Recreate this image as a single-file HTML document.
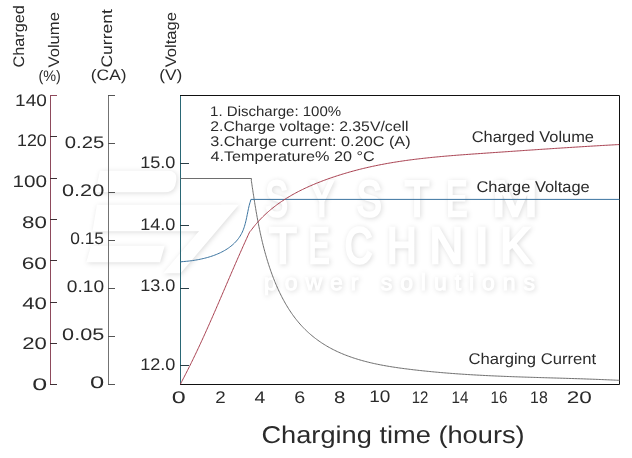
<!DOCTYPE html>
<html><head><meta charset="utf-8"><title>Charging characteristics</title><style>
html,body{margin:0;padding:0;background:#fff;width:632px;height:458px;overflow:hidden}
svg{display:block}
text{font-family:"Liberation Sans",sans-serif;fill:#2b2b2b;text-rendering:geometricPrecision}
.wm text{fill:#fff}
</style></head><body>
<svg width="632" height="458" viewBox="0 0 632 458">
<defs><filter id="wm" x="-20%" y="-30%" width="140%" height="160%" color-interpolation-filters="sRGB">
<feGaussianBlur in="SourceAlpha" stdDeviation="2.5"/>
<feOffset dx="0.8" dy="1.3" result="b"/>
<feFlood flood-color="#000" flood-opacity="0.14"/>
<feComposite in2="b" operator="in"/>
<feMerge><feMergeNode/><feMergeNode in="SourceGraphic"/></feMerge>
</filter></defs>
<g class="wm" filter="url(#wm)" fill="#fff" stroke="#fff" stroke-width="2.6" font-family="Liberation Sans,sans-serif">
<path d="M101,172 H168 Q176,172 175,180 L174,185 Q172,191 164,191 H97 Z"/>
<path d="M98,206 H234 L210,230 H94 Z"/>
<path d="M222,206 L236,206 L180,272 L166,272 Z"/>
<path d="M92,247 H163 L159,261 H88 Z"/>
<text font-size="50.3" transform="translate(265.3,215.5) scale(0.674,1)">S</text>
<text font-size="50.3" transform="translate(309.9,215.5) scale(0.707,1)">Y</text>
<text font-size="50.3" transform="translate(356.6,215.5) scale(0.752,1)">S</text>
<text font-size="50.3" transform="translate(404.7,215.5) scale(0.802,1)">T</text>
<text font-size="50.3" transform="translate(446.3,215.5) scale(0.629,1)">E</text>
<text font-size="50.3" transform="translate(491.9,215.5) scale(1.094,1)">M</text>
<text font-size="50.7" transform="translate(268.9,262.7) scale(0.896,1)">T</text>
<text font-size="50.7" transform="translate(308.6,262.7) scale(0.624,1)">E</text>
<text font-size="50.7" transform="translate(344.8,262.7) scale(0.755,1)">C</text>
<text font-size="50.7" transform="translate(387.0,262.7) scale(0.809,1)">H</text>
<text font-size="50.7" transform="translate(429.4,262.7) scale(0.920,1)">N</text>
<text font-size="50.7" transform="translate(474.7,262.7) scale(1.000,1)">I</text>
<text font-size="50.7" transform="translate(500.3,262.7) scale(0.908,1)">K</text>
<text font-size="23" x="264" y="290" stroke-width="1" textLength="271" lengthAdjust="spacing">power solutions</text>
</g>
<g fill="none" stroke-width="1">
<path d="M50.5,95V385 M50,95.5H57" stroke="#8e4a5c"/>
<path d="M50,136.5H57 M50,178.5H57 M50,219.5H57 M50,260.5H57 M50,302.5H57 M50,343.5H57 M50,384.5H57" stroke="#3e3035"/>
<path d="M108.5,95V385" stroke="#737373"/>
<path d="M108,95.5H115 M108,143.5H115 M108,192.5H115 M108,240.5H115 M108,288.5H115 M108,336.5H115 M108,384.5H115" stroke="#555"/>
<path d="M180.5,95.5V384" stroke="#2a6775"/>
<path d="M180,163.5H189 M180,225.5H189 M180,288.5H189 M180,365.5H189" stroke="#2a3e46"/>
<path d="M180,95.5H619.5V384.5H180" stroke="#111"/>
</g>
<g fill="none" stroke-width="1" stroke-linejoin="round">
<path d="M180.5,178.5 L251.3,178.5 L251.50,178.50 251.29,180.30 251.51,181.79 251.73,183.28 251.95,184.77 252.17,186.27 252.39,187.76 252.62,189.25 252.84,190.74 253.06,192.23 253.29,193.73 253.52,195.22 253.75,196.71 253.98,198.20 254.21,199.69 254.45,201.18 254.68,202.67 254.92,204.16 255.17,205.65 255.41,207.14 255.66,208.62 255.91,210.11 256.17,211.60 256.43,213.08 256.69,214.57 256.95,216.06 257.22,217.54 257.49,219.02 257.77,220.51 258.05,221.99 258.33,223.47 258.62,224.95 258.92,226.43 259.22,227.91 259.52,229.39 259.83,230.86 260.14,232.34 260.46,233.81 260.78,235.29 261.11,236.76 261.45,238.23 261.79,239.70 262.14,241.17 262.49,242.64 262.85,244.10 263.21,245.56 263.59,247.03 263.96,248.49 264.35,249.95 264.74,251.40 265.14,252.86 265.55,254.31 265.96,255.76 266.38,257.21 266.81,258.66 267.24,260.10 267.69,261.54 268.14,262.98 268.59,264.42 269.06,265.85 269.54,267.29 270.02,268.72 270.51,270.14 271.01,271.56 271.52,272.99 272.04,274.40 272.56,275.82 273.10,277.23 273.64,278.63 274.20,280.04 274.76,281.44 275.34,282.83 275.92,284.22 276.51,285.61 277.12,286.99 277.73,288.37 278.36,289.74 278.99,291.11 279.64,292.47 280.30,293.83 280.97,295.18 281.65,296.53 282.34,297.87 283.05,299.20 283.77,300.53 284.50,301.85 285.24,303.16 286.00,304.47 286.77,305.76 287.55,307.05 288.35,308.33 289.16,309.61 289.98,310.87 290.82,312.12 291.67,313.37 292.54,314.60 293.42,315.82 294.32,317.04 295.23,318.24 296.16,319.43 297.10,320.61 298.06,321.77 299.03,322.93 300.02,324.06 301.03,325.19 302.05,326.30 303.08,327.40 304.14,328.48 305.20,329.55 306.29,330.60 307.38,331.63 308.49,332.65 309.62,333.66 310.76,334.65 311.91,335.62 313.08,336.58 314.26,337.52 315.45,338.44 316.65,339.35 317.87,340.24 319.10,341.12 320.34,341.98 321.59,342.82 322.85,343.64 324.13,344.45 325.41,345.24 326.71,346.01 328.01,346.77 329.33,347.51 330.65,348.23 331.98,348.94 333.33,349.63 334.68,350.31 336.03,350.97 337.40,351.61 338.77,352.24 340.15,352.85 341.53,353.45 342.92,354.03 344.32,354.60 345.72,355.15 347.13,355.69 348.55,356.22 349.97,356.73 351.39,357.23 352.82,357.72 354.25,358.19 355.69,358.65 357.13,359.10 358.57,359.54 360.02,359.97 361.47,360.38 362.92,360.79 364.38,361.18 365.84,361.56 367.30,361.93 368.76,362.30 370.23,362.65 371.70,362.99 373.17,363.33 374.64,363.65 376.12,363.97 377.59,364.27 379.07,364.57 380.55,364.87 382.03,365.15 383.52,365.43 385.00,365.70 386.49,365.96 387.97,366.21 389.46,366.46 390.95,366.71 392.44,366.94 393.93,367.17 395.42,367.40 396.92,367.62 398.41,367.84 399.90,368.05 401.40,368.25 402.89,368.45 404.39,368.65 405.88,368.84 407.38,369.03 408.88,369.22 410.38,369.40 411.87,369.58 413.37,369.76 414.87,369.93 416.37,370.10 417.87,370.27 419.37,370.44 420.87,370.60 422.37,370.76 423.87,370.92 425.37,371.08 426.87,371.23 428.37,371.38 429.87,371.53 431.37,371.67 432.88,371.82 434.38,371.96 435.88,372.10 437.38,372.23 438.88,372.37 440.39,372.50 441.89,372.63 443.39,372.76 444.90,372.88 446.40,373.00 447.90,373.13 449.41,373.24 450.91,373.36 452.42,373.48 453.92,373.59 455.43,373.70 456.93,373.81 458.43,373.91 459.94,374.02 461.44,374.12 462.95,374.22 464.46,374.32 465.96,374.42 467.47,374.51 468.97,374.61 470.48,374.70 471.98,374.79 473.49,374.88 475.00,374.96 476.50,375.05 478.01,375.13 479.52,375.21 481.02,375.29 482.53,375.37 484.03,375.45 485.54,375.53 487.05,375.60 488.55,375.67 490.06,375.75 491.57,375.82 493.08,375.88 494.58,375.95 496.09,376.02 497.60,376.09 499.10,376.15 500.61,376.21 502.12,376.27 503.63,376.34 505.13,376.40 506.64,376.46 508.15,376.51 509.66,376.57 511.16,376.63 512.67,376.68 514.18,376.74 515.69,376.79 517.19,376.84 518.70,376.90 520.21,376.95 521.72,377.00 523.23,377.05 524.73,377.10 526.24,377.15 527.75,377.20 529.26,377.24 530.76,377.29 532.27,377.34 533.78,377.38 535.29,377.43 536.80,377.48 538.30,377.52 539.81,377.57 541.32,377.61 542.83,377.66 544.34,377.70 545.84,377.75 547.35,377.79 548.86,377.83 550.37,377.88 551.88,377.92 553.38,377.97 554.89,378.01 556.40,378.05 557.91,378.10 559.42,378.14 560.92,378.19 562.43,378.23 563.94,378.28 565.45,378.32 566.95,378.37 568.46,378.41 569.97,378.46 571.48,378.51 572.99,378.55 574.49,378.60 576.00,378.65 577.51,378.69 579.02,378.74 580.53,378.79 582.03,378.84 583.54,378.89 585.05,378.94 586.56,379.00 588.06,379.05 589.57,379.10 591.08,379.16 592.59,379.21 594.09,379.27 595.60,379.32 597.11,379.38 598.62,379.44 600.12,379.50 601.63,379.56 603.14,379.62 604.65,379.68 606.15,379.74 607.66,379.80 609.17,379.87 610.68,379.94 612.18,380.00 613.69,380.07 615.20,380.14 616.70,380.21 618.21,380.28 619.50,380.20" stroke="#6e6e6e"/>
<path d="M180.50,262.00 182.00,261.66 183.53,261.55 185.05,261.42 186.58,261.28 188.10,261.12 189.62,260.95 191.13,260.76 192.65,260.55 194.16,260.32 195.67,260.08 197.18,259.82 198.68,259.54 200.18,259.24 201.68,258.92 203.17,258.58 204.66,258.22 206.14,257.84 207.61,257.44 209.08,257.01 210.54,256.56 212.00,256.08 213.44,255.58 214.88,255.05 216.30,254.49 217.71,253.90 219.11,253.29 220.50,252.64 221.87,251.96 223.22,251.25 224.56,250.51 225.87,249.73 227.17,248.91 228.44,248.06 229.68,247.16 230.89,246.23 232.08,245.26 233.23,244.26 234.34,243.21 235.41,242.12 236.45,240.99 237.43,239.82 238.38,238.62 239.27,237.37 240.11,236.10 240.89,234.78 241.62,233.44 242.30,232.07 242.91,230.67 243.47,229.24 243.99,227.80 244.46,226.35 244.89,224.88 245.29,223.41 245.67,221.92 246.02,220.43 246.35,218.94 246.67,217.44 246.98,215.95 247.28,214.45 247.58,212.95 247.88,211.45 248.19,209.95 248.51,208.45 248.84,206.96 249.20,205.47 249.59,204.00 250.02,202.53 250.49,201.07 250.90,199.40 L619.5,199.4" stroke="#3b74a0"/>
<path d="M180.50,384.30 181.04,382.87 181.75,381.52 182.47,380.17 183.17,378.82 183.88,377.47 184.58,376.11 185.28,374.75 185.98,373.40 186.67,372.04 187.36,370.67 188.05,369.31 188.73,367.95 189.42,366.58 190.10,365.22 190.77,363.85 191.45,362.48 192.12,361.11 192.79,359.74 193.45,358.36 194.12,356.99 194.78,355.61 195.44,354.24 196.10,352.86 196.75,351.48 197.40,350.10 198.05,348.72 198.70,347.34 199.35,345.95 199.99,344.57 200.64,343.18 201.28,341.80 201.91,340.41 202.55,339.03 203.19,337.64 203.82,336.25 204.45,334.86 205.08,333.47 205.71,332.08 206.33,330.68 206.96,329.29 207.58,327.90 208.20,326.50 208.83,325.11 209.44,323.72 210.06,322.32 210.68,320.92 211.30,319.53 211.91,318.13 212.52,316.73 213.14,315.33 213.75,313.94 214.36,312.54 214.97,311.14 215.58,309.74 216.19,308.34 216.79,306.94 217.40,305.54 218.01,304.14 218.61,302.73 219.22,301.33 219.82,299.93 220.43,298.53 221.03,297.13 221.63,295.73 222.24,294.32 222.84,292.92 223.44,291.52 224.04,290.12 224.65,288.71 225.25,287.31 225.85,285.91 226.45,284.51 227.06,283.10 227.66,281.70 228.26,280.30 228.87,278.90 229.47,277.50 230.07,276.09 230.68,274.69 231.28,273.29 231.89,271.89 232.49,270.49 233.10,269.09 233.71,267.69 234.31,266.29 234.92,264.89 235.53,263.49 236.14,262.09 236.75,260.69 237.36,259.29 237.98,257.89 238.59,256.49 239.21,255.10 239.82,253.70 240.44,252.30 241.06,250.91 241.68,249.51 242.30,248.12 242.92,246.73 243.55,245.33 244.17,243.94 244.80,242.55 245.43,241.16 246.06,239.77 246.69,238.38 247.32,236.99 247.96,235.60 248.59,234.21 249.23,232.83 250.00,231.50 250.98,230.48 251.88,229.26 252.80,228.06 253.73,226.87 254.68,225.70 255.64,224.53 256.62,223.38 257.62,222.25 258.63,221.12 259.65,220.01 260.69,218.92 261.74,217.83 262.81,216.77 263.89,215.71 264.99,214.67 266.10,213.64 267.22,212.63 268.35,211.63 269.49,210.64 270.65,209.67 271.82,208.71 272.99,207.77 274.18,206.83 275.38,205.91 276.59,205.01 277.81,204.12 279.04,203.24 280.28,202.37 281.52,201.52 282.78,200.68 284.04,199.85 285.32,199.04 286.60,198.23 287.88,197.44 289.18,196.67 290.48,195.90 291.79,195.14 293.10,194.40 294.42,193.67 295.75,192.95 297.09,192.24 298.42,191.54 299.77,190.85 301.12,190.17 302.48,189.51 303.84,188.85 305.20,188.20 306.57,187.57 307.95,186.94 309.32,186.32 310.71,185.71 312.09,185.11 313.48,184.52 314.88,183.94 316.28,183.37 317.68,182.80 319.08,182.25 320.49,181.70 321.90,181.16 323.31,180.62 324.73,180.10 326.15,179.58 327.57,179.07 328.99,178.56 330.42,178.07 331.85,177.57 333.28,177.09 334.71,176.61 336.15,176.14 337.58,175.67 339.02,175.21 340.46,174.76 341.91,174.31 343.35,173.87 344.80,173.44 346.25,173.01 347.70,172.59 349.15,172.17 350.60,171.76 352.06,171.36 353.52,170.96 354.98,170.57 356.44,170.19 357.90,169.81 359.36,169.43 360.83,169.07 362.30,168.70 363.76,168.35 365.23,168.00 366.71,167.66 368.18,167.32 369.65,166.99 371.13,166.66 372.60,166.34 374.08,166.03 375.56,165.72 377.04,165.41 378.52,165.11 380.00,164.82 381.48,164.53 382.97,164.25 384.45,163.97 385.94,163.70 387.43,163.43 388.91,163.17 390.40,162.92 391.89,162.66 393.38,162.41 394.87,162.17 396.37,161.93 397.86,161.70 399.35,161.47 400.84,161.24 402.34,161.02 403.83,160.81 405.33,160.59 406.83,160.38 408.32,160.18 409.82,159.98 411.32,159.78 412.82,159.59 414.31,159.40 415.81,159.21 417.31,159.03 418.81,158.85 420.31,158.67 421.81,158.50 423.32,158.33 424.82,158.17 426.32,158.00 427.82,157.84 429.32,157.69 430.83,157.53 432.33,157.38 433.83,157.23 435.34,157.08 436.84,156.94 438.34,156.80 439.85,156.66 441.35,156.52 442.86,156.39 444.36,156.25 445.87,156.12 447.37,155.99 448.88,155.87 450.38,155.74 451.89,155.62 453.39,155.50 454.90,155.38 456.41,155.26 457.91,155.14 459.42,155.03 460.93,154.91 462.43,154.80 463.94,154.69 465.45,154.58 466.95,154.47 468.46,154.36 469.97,154.25 471.47,154.14 472.98,154.03 474.49,153.93 475.99,153.82 477.50,153.72 479.01,153.61 480.51,153.51 482.02,153.40 483.53,153.30 485.04,153.19 486.54,153.09 488.05,152.98 489.56,152.88 491.06,152.78 492.57,152.67 494.08,152.57 495.58,152.46 497.09,152.36 498.60,152.25 500.11,152.15 501.61,152.05 503.12,151.94 504.63,151.84 506.13,151.73 507.64,151.63 509.15,151.53 510.66,151.42 512.16,151.32 513.67,151.21 515.18,151.11 516.68,151.01 518.19,150.90 519.70,150.80 521.21,150.70 522.71,150.59 524.22,150.49 525.73,150.39 527.23,150.29 528.74,150.18 530.25,150.08 531.76,149.98 533.26,149.88 534.77,149.78 536.28,149.67 537.79,149.57 539.29,149.47 540.80,149.37 542.31,149.27 543.81,149.17 545.32,149.07 546.83,148.97 548.34,148.87 549.84,148.77 551.35,148.67 552.86,148.57 554.37,148.47 555.87,148.37 557.38,148.28 558.89,148.18 560.40,148.08 561.90,147.98 563.41,147.89 564.92,147.79 566.43,147.69 567.93,147.60 569.44,147.50 570.95,147.40 572.46,147.31 573.96,147.21 575.47,147.12 576.98,147.02 578.49,146.93 580.00,146.84 581.50,146.74 583.01,146.65 584.52,146.56 586.03,146.46 587.53,146.37 589.04,146.28 590.55,146.19 592.06,146.10 593.57,146.01 595.07,145.92 596.58,145.83 598.09,145.74 599.60,145.65 601.11,145.56 602.61,145.48 604.12,145.39 605.63,145.30 607.14,145.22 608.65,145.13 610.16,145.04 611.66,144.96 613.17,144.88 614.68,144.79 616.19,144.71 617.70,144.62 619.20,144.60" stroke="#a83f4f"/>
</g>

<g>
<text transform="translate(24.26,67.40) rotate(-90)" font-size="15.30" textLength="62.26" lengthAdjust="spacingAndGlyphs">Charged</text>
<text transform="translate(59.27,67.49) rotate(-90)" font-size="15.30" textLength="55.42" lengthAdjust="spacingAndGlyphs">Volume</text>
<text transform="translate(111.63,67.53) rotate(-90)" font-size="15.30" textLength="58.33" lengthAdjust="spacingAndGlyphs">Current</text>
<text transform="translate(176.42,67.31) rotate(-90)" font-size="15.30" textLength="55.15" lengthAdjust="spacingAndGlyphs">Voltage</text>
<text x="38.49" y="80.55" font-size="15.20" textLength="22.41" lengthAdjust="spacingAndGlyphs">(%)</text>
<text x="90.82" y="79.77" font-size="15.20" textLength="35.68" lengthAdjust="spacingAndGlyphs">(CA)</text>
<text x="159.19" y="79.71" font-size="15.20" textLength="23.21" lengthAdjust="spacingAndGlyphs">(V)</text>
<text x="15.13" y="105.83" font-size="16.90" textLength="31.67" lengthAdjust="spacingAndGlyphs">140</text>
<text x="17.06" y="145.53" font-size="16.90" textLength="29.69" lengthAdjust="spacingAndGlyphs">120</text>
<text x="12.44" y="186.99" font-size="16.90" textLength="34.52" lengthAdjust="spacingAndGlyphs">100</text>
<text x="22.00" y="227.88" font-size="16.90" textLength="24.81" lengthAdjust="spacingAndGlyphs">80</text>
<text x="21.77" y="268.87" font-size="16.90" textLength="25.23" lengthAdjust="spacingAndGlyphs">60</text>
<text x="22.25" y="308.74" font-size="16.90" textLength="24.71" lengthAdjust="spacingAndGlyphs">40</text>
<text x="22.30" y="349.47" font-size="16.90" textLength="24.58" lengthAdjust="spacingAndGlyphs">20</text>
<text x="32.22" y="390.49" font-size="16.90" textLength="14.96" lengthAdjust="spacingAndGlyphs">0</text>
<text x="64.76" y="147.73" font-size="16.90" textLength="39.49" lengthAdjust="spacingAndGlyphs">0.25</text>
<text x="62.01" y="195.73" font-size="16.90" textLength="42.20" lengthAdjust="spacingAndGlyphs">0.20</text>
<text x="70.28" y="243.83" font-size="16.90" textLength="33.72" lengthAdjust="spacingAndGlyphs">0.15</text>
<text x="66.81" y="292.31" font-size="16.90" textLength="37.23" lengthAdjust="spacingAndGlyphs">0.10</text>
<text x="62.13" y="340.29" font-size="16.90" textLength="42.09" lengthAdjust="spacingAndGlyphs">0.05</text>
<text x="90.13" y="388.48" font-size="16.90" textLength="14.25" lengthAdjust="spacingAndGlyphs">0</text>
<text x="140.21" y="167.74" font-size="16.90" textLength="35.22" lengthAdjust="spacingAndGlyphs">15.0</text>
<text x="140.21" y="229.74" font-size="16.90" textLength="35.22" lengthAdjust="spacingAndGlyphs">14.0</text>
<text x="140.21" y="291.13" font-size="16.90" textLength="35.22" lengthAdjust="spacingAndGlyphs">13.0</text>
<text x="140.21" y="369.58" font-size="16.90" textLength="35.22" lengthAdjust="spacingAndGlyphs">12.0</text>
<text x="171.83" y="402.50" font-size="16.90" textLength="13.98" lengthAdjust="spacingAndGlyphs">0</text>
<text x="215.15" y="403.08" font-size="16.90" textLength="10.44" lengthAdjust="spacingAndGlyphs">2</text>
<text x="254.62" y="402.51" font-size="16.90" textLength="10.80" lengthAdjust="spacingAndGlyphs">4</text>
<text x="294.38" y="402.62" font-size="16.90" textLength="10.97" lengthAdjust="spacingAndGlyphs">6</text>
<text x="334.11" y="402.59" font-size="16.90" textLength="11.39" lengthAdjust="spacingAndGlyphs">8</text>
<text x="369.32" y="402.49" font-size="16.90" textLength="21.12" lengthAdjust="spacingAndGlyphs">10</text>
<text x="411.76" y="403.05" font-size="16.90" textLength="16.61" lengthAdjust="spacingAndGlyphs">12</text>
<text x="451.59" y="403.11" font-size="16.90" textLength="16.97" lengthAdjust="spacingAndGlyphs">14</text>
<text x="490.54" y="402.63" font-size="16.90" textLength="16.97" lengthAdjust="spacingAndGlyphs">16</text>
<text x="530.08" y="402.57" font-size="16.90" textLength="17.68" lengthAdjust="spacingAndGlyphs">18</text>
<text x="566.85" y="402.59" font-size="16.90" textLength="25.05" lengthAdjust="spacingAndGlyphs">20</text>
<text x="261.41" y="442.64" font-size="24.30" textLength="263.23" lengthAdjust="spacingAndGlyphs">Charging time (hours)</text>
<text x="210.11" y="115.60" font-size="14.00" textLength="131.08" lengthAdjust="spacingAndGlyphs">1. Discharge: 100%</text>
<text x="210.26" y="130.66" font-size="14.00" textLength="198.21" lengthAdjust="spacingAndGlyphs">2.Charge voltage: 2.35V/cell</text>
<text x="210.31" y="146.37" font-size="14.00" textLength="200.26" lengthAdjust="spacingAndGlyphs">3.Charge current: 0.20C (A)</text>
<text x="210.49" y="161.39" font-size="14.00" textLength="164.16" lengthAdjust="spacingAndGlyphs">4.Temperature% 20 °C</text>
<text x="471.73" y="142.23" font-size="15.50" textLength="122.29" lengthAdjust="spacingAndGlyphs">Charged Volume</text>
<text x="476.42" y="192.16" font-size="15.50" textLength="113.35" lengthAdjust="spacingAndGlyphs">Charge Voltage</text>
<text x="468.58" y="364.49" font-size="15.50" textLength="127.67" lengthAdjust="spacingAndGlyphs">Charging Current</text>
</g>
</svg>
</body></html>
